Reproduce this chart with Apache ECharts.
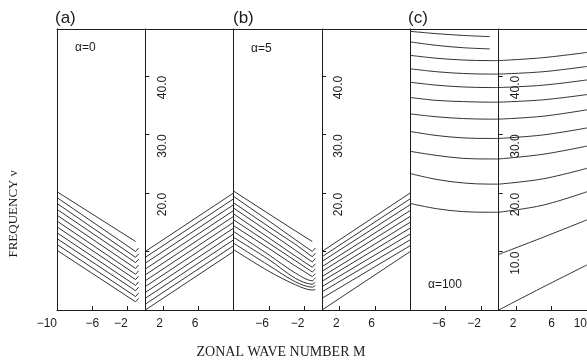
<!DOCTYPE html>
<html>
<head>
<meta charset="utf-8">
<script src="https://cdn.jsdelivr.net/npm/echarts@6/dist/echarts.min.js"></script>
<style>
  html, body { margin: 0; padding: 0; background: #fff; }
  #chart { width: 587px; height: 362px; }
</style>
</head>
<body>
<div id="chart"></div>
<script>
// ---- data (nu vs zonal wave number M) ----

// (a) alpha = 0
var aLeftM = [-10, -1.1, -0.75];
var aLeft = [
  [10.2, 1.4, 2.0],
  [11.2, 2.3, 2.9],
  [12.2, 3.3, 3.9],
  [13.2, 4.2, 4.8],
  [14.2, 5.2, 5.8],
  [15.2, 6.1, 6.7],
  [16.2, 7.1, 7.7],
  [17.2, 8.1, 8.7],
  [18.2, 9.0, 9.6],
  [19.2, 10.0, 10.6],
  [20.2, 11.7, null]
];
var aRightM = [0, 10];
var aRight = [
  [0, 10], [1, 11], [2, 12], [3, 13], [4, 14], [5, 15],
  [6, 16], [7, 17], [8, 18], [9, 19], [10, 20]
];

// (b) alpha = 5
var bLeftM = [-10, -6, -3, -1.1, -0.75];
var bLeft = [
  [10.3, 6.6, 4.3, 3.4, 3.5],
  [11.4, 7.6, 4.8, 3.9, 4.2],
  [12.4, 8.6, 5.4, 4.4, 4.8],
  [13.4, 9.4, 6.3, 5.0, 5.5],
  [14.4, 10.5, 7.5, 5.7, 6.2],
  [15.4, 11.4, 8.4, 6.5, 7.0],
  [16.4, 12.3, 9.2, 7.3, 7.9],
  [17.4, 13.3, 10.2, 8.2, 8.8],
  [18.3, 14.2, 11.2, 9.1, 9.7],
  [19.4, 15.2, 12.0, 10.0, 10.6],
  [20.3, 16.4, 13.5, 11.7, null]
];
var bLeftSmooth = [true, true, true, true, false, false, false, false, false, false, false];
var bRightM = [0, 10];
var bRight = [
  [0, 10], [2.0, 11], [3.1, 12], [4.0, 13], [4.9, 14], [5.7, 15],
  [6.6, 16], [7.4, 17], [8.3, 18], [9.1, 19], [10.0, 20]
];

// (c) alpha = 100
var cLeftM = [-10, -7, -4, -1, 0];
var cLeft = [
  [47.6, 47.2, 46.9, 46.7, null],
  [45.8, 45.2, 44.8, 44.6, null],
  [43.5, 43.0, 42.7, 42.6, 42.6],
  [41.2, 40.7, 40.4, 40.3, 40.3],
  [38.9, 38.4, 38.1, 38.0, 38.0],
  [36.3, 35.8, 35.6, 35.5, 35.5],
  [33.5, 33.0, 32.7, 32.6, 32.6],
  [30.5, 29.8, 29.4, 29.3, 29.3],
  [27.1, 26.4, 25.9, 25.8, 25.8],
  [23.3, 22.3, 21.7, 21.5, 21.5],
  [18.2, 17.3, 16.8, 16.7, 16.7]
];
var cRightM = [0, 5, 10];
var cRight = [
  [0, 3.9, 7.7],
  [9.5, 12.4, 15.4],
  [16.7, 17.9, 20.2],
  [21.5, 22.4, 24.2],
  [25.8, 26.6, 28.0],
  [29.3, 29.9, 31.1],
  [32.6, 33.1, 34.2],
  [35.5, 35.9, 36.8],
  [38.0, 38.4, 39.3],
  [40.3, 40.7, 41.6],
  [42.6, 43.1, 44.0]
];

// tick positions / labels
var leftTicks = [-6, -2];
var rightTicks = [2, 6];
var nuTicks = [10, 20, 30, 40];
var nuLabelsAB = [20, 30, 40];
var nuLabelsC = [10, 20, 30, 40];

// ---- layout ----
var edges = [57, 145.3, 233.7, 322, 410.3, 498.7, 587];
var ink = '#1c1c1c';
var sans = "'Liberation Sans', Arial, sans-serif";
var serif = "'Liberation Serif', 'Times New Roman', serif";

var grids = [], xAxes = [], yAxes = [], series = [];

function minusFmt(v) {
  return v < 0 ? '\u2212' + Math.abs(v) : String(v);
}

for (var i = 0; i < 6; i++) {
  var isLeft = i % 2 === 0;
  var panel = Math.floor(i / 2);
  grids.push({
    left: edges[i], top: 29,
    width: edges[i + 1] - edges[i], height: 281,
    outerBoundsMode: 'none', containLabel: false
  });
  var xLabels = isLeft ? (panel === 0 ? [-10].concat(leftTicks) : leftTicks)
                       : (panel === 2 ? rightTicks.concat([10]) : rightTicks);
  xAxes.push({
    type: 'value', gridIndex: i, position: 'bottom',
    min: isLeft ? -10 : 0, max: isLeft ? 0 : 10,
    splitLine: { show: false },
    axisLine: { show: true, onZero: false, lineStyle: { color: ink, width: 1 } },
    axisTick: { show: true, inside: true, length: 4, customValues: isLeft ? leftTicks : rightTicks,
                lineStyle: { color: ink } },
    axisLabel: {
      show: true, customValues: xLabels, margin: 8,
      color: ink, fontFamily: sans, fontSize: 12,
      alignMinLabel: 'right', alignMaxLabel: 'right',
      formatter: minusFmt
    }
  });
  // top frame line
  xAxes.push({
    type: 'value', gridIndex: i, position: 'top',
    min: isLeft ? -10 : 0, max: isLeft ? 0 : 10,
    splitLine: { show: false },
    axisLine: { show: true, onZero: false, lineStyle: { color: ink, width: 1 } },
    axisTick: { show: false }, axisLabel: { show: false }
  });
  yAxes.push({
    type: 'value', gridIndex: i, position: 'left',
    min: 0, max: 48,
    splitLine: { show: false },
    axisLine: { show: true, onZero: false, lineStyle: { color: ink, width: 1 } },
    axisTick: { show: !isLeft, inside: true, length: 4, customValues: nuTicks,
                lineStyle: { color: ink } },
    axisLabel: {
      show: !isLeft, inside: true, rotate: 90, margin: 11,
      customValues: panel === 2 ? nuLabelsC : nuLabelsAB,
      align: 'right', verticalAlign: 'top',
      color: ink, fontFamily: sans, fontSize: 12,
      formatter: function (v) { return v.toFixed(1); }
    }
  });
}

function addLines(gridIdx, mVals, rows, smoothFlags) {
  rows.forEach(function (row, k) {
    var pts = [];
    mVals.forEach(function (m, j) {
      if (row[j] !== null) pts.push([m, row[j]]);
    });
    var sm = smoothFlags === true ? 0.35 : (smoothFlags ? (smoothFlags[k] ? 0.3 : false) : false);
    series.push({
      type: 'line', xAxisIndex: gridIdx * 2, yAxisIndex: gridIdx,
      data: pts, smooth: sm, symbol: 'none', silent: true,
      lineStyle: { color: ink, width: 0.9 }
    });
  });
}

addLines(0, aLeftM, aLeft, null);
addLines(1, aRightM, aRight, null);
addLines(2, bLeftM, bLeft, bLeftSmooth);
addLines(3, bRightM, bRight, null);
addLines(4, cLeftM, cLeft, true);
addLines(5, cRightM, cRight, true);

var chart = echarts.init(document.getElementById('chart'), null, { renderer: 'canvas' });
chart.setOption({
  animation: false,
  backgroundColor: '#fff',
  grid: grids,
  xAxis: xAxes,
  yAxis: yAxes,
  series: series,
  graphic: [
    { type: 'text', left: 55, top: 10, style: { text: '(a)', font: '17px ' + sans, fill: ink } },
    { type: 'text', left: 233, top: 10, style: { text: '(b)', font: '17px ' + sans, fill: ink } },
    { type: 'text', left: 408, top: 10, style: { text: '(c)', font: '17px ' + sans, fill: ink } },
    { type: 'text', left: 75, top: 42, style: { text: '\u03b1=0', font: '12px ' + sans, fill: ink } },
    { type: 'text', left: 251, top: 43, style: { text: '\u03b1=5', font: '12px ' + sans, fill: ink } },
    { type: 'text', left: 428, top: 279, style: { text: '\u03b1=100', font: '12px ' + sans, fill: ink } },
    { type: 'text', x: 14, y: 214, rotation: Math.PI / 2,
      style: { text: 'FREQUENCY \u03bd', font: '13px ' + serif, fill: ink, align: 'center', verticalAlign: 'middle' } },
    { type: 'text', x: 281, y: 352,
      style: { text: 'ZONAL WAVE NUMBER M', font: '14px ' + serif, fill: ink, align: 'center', verticalAlign: 'middle' } }
  ]
});
</script>
</body>
</html>
